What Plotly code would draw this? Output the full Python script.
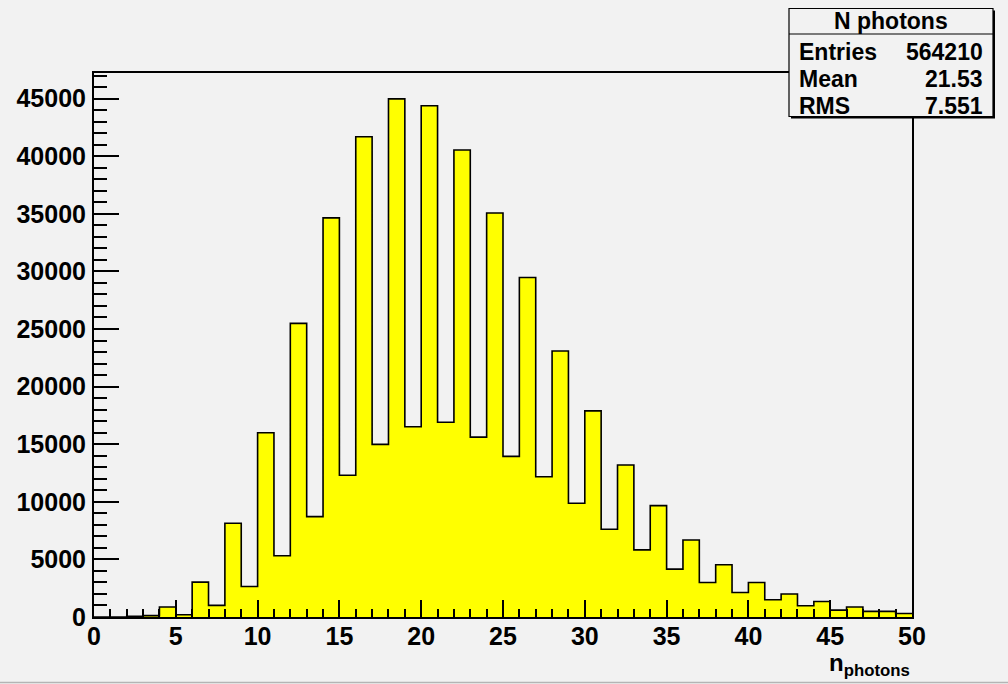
import plotly.graph_objects as go

# Photon-count histogram: 50 unit-width bins on [0, 50)
bin_edges = list(range(0, 51))
counts = [
    0, 0, 60, 120, 870, 200, 3030, 1005, 8140, 2650,
    15990, 5310, 25490, 8710, 34640, 12300, 41680, 14980, 44970, 16510,
    44370, 16910, 40530, 15610, 35070, 13940, 29470, 12180, 23090, 9870,
    17890, 7620, 13190, 5830, 9665, 4157, 6690, 3000, 4530, 2130,
    3000, 1500, 1990, 980, 1350, 600, 866, 485, 485, 310,
]
stats_title = "N photons"
stats_labels = ["Entries", "Mean", "RMS"]
stats_values = ["564210", "21.53", "7.551"]
x_title = "n<sub>photons</sub>"

W, H = 1008, 684
L, R, T, B = 94, 912, 73, 617
BG = "#f2f2f2"
FONT = "Liberation Sans"


def px(xp):
    return (xp - L) / (R - L)


def py(yp):
    return (B - yp) / (B - T)


# step outline: one point per bin's left edge, plus the closing right edge
step_x = bin_edges[:-1] + [bin_edges[-1]]
step_y = counts + [counts[-1]]

fig = go.Figure()
fig.add_trace(go.Scatter(
    x=step_x, y=step_y, mode="lines", line_shape="hv",
    line=dict(color="black", width=1.6),
    fill="tozeroy", fillcolor="#ffff00",
    hoverinfo="skip", showlegend=False,
))

ymax = 1.05 * max(counts)

fig.update_layout(
    width=W, height=H,
    margin=dict(l=L, r=W - R, t=T, b=H - B, pad=0),
    paper_bgcolor=BG, plot_bgcolor=BG,
    showlegend=False,
    xaxis=dict(
        range=[bin_edges[0], bin_edges[-1]], dtick=5, tick0=0,
        ticks="inside", ticklen=17, tickwidth=1.5, tickcolor="black",
        minor=dict(dtick=1, ticks="inside", ticklen=8, tickwidth=1.5, tickcolor="black"),
        showgrid=False, zeroline=False,
        showline=True, linecolor="black", linewidth=2, mirror=True,
        tickfont=dict(family=FONT, size=25, color="black", weight="bold"),
        ticklabelstandoff=-4,
    ),
    yaxis=dict(
        range=[0, ymax], dtick=5000, tick0=0, tickformat="d",
        ticks="inside", ticklen=25, tickwidth=1.5, tickcolor="black",
        minor=dict(dtick=1000, ticks="inside", ticklen=13, tickwidth=1.5, tickcolor="black"),
        showgrid=False, zeroline=False,
        showline=True, linecolor="black", linewidth=2, mirror=True,
        tickfont=dict(family=FONT, size=25, color="black", weight="bold"),
        ticklabelstandoff=1,
    ),
)

# axis title, right-aligned at the end of the x axis
fig.add_annotation(
    x=px(912), y=py(664), xref="paper", yref="paper",
    xanchor="right", yanchor="middle", showarrow=False,
    text="<b>" + x_title + "</b>",
    font=dict(family=FONT, size=24, color="black"),
)

# statistics box with drop shadow
bx0, bx1, by0, by1 = 789, 993, 8.5, 116.5
fig.add_shape(type="rect", xref="paper", yref="paper",
              x0=px(bx0 + 2), x1=px(bx1 + 2), y0=py(by0 + 2), y1=py(by1 + 2),
              fillcolor="black", line=dict(width=0), layer="above")
fig.add_shape(type="rect", xref="paper", yref="paper",
              x0=px(bx0), x1=px(bx1), y0=py(by0), y1=py(by1),
              fillcolor=BG, line=dict(color="black", width=1.2), layer="above")
fig.add_shape(type="line", xref="paper", yref="paper",
              x0=px(bx0), x1=px(bx1), y0=py(34), y1=py(34),
              line=dict(color="black", width=1.2), layer="above")
fig.add_annotation(
    x=px((bx0 + bx1) / 2), y=py(21), xref="paper", yref="paper",
    xanchor="center", yanchor="middle", showarrow=False,
    text="<b>" + stats_title + "</b>",
    font=dict(family=FONT, size=23, color="black"),
)
for i, (lab, val) in enumerate(zip(stats_labels, stats_values)):
    yc = 52 + i * 27
    fig.add_annotation(
        x=px(797), y=py(yc), xref="paper", yref="paper",
        xanchor="left", yanchor="middle", showarrow=False,
        text="<b>" + lab + "</b>",
        font=dict(family=FONT, size=23, color="black"),
    )
    fig.add_annotation(
        x=px(985), y=py(yc), xref="paper", yref="paper",
        xanchor="right", yanchor="middle", showarrow=False,
        text="<b>" + val + "</b>",
        font=dict(family=FONT, size=23, color="black"),
    )

# thin border along the bottom of the canvas
fig.add_shape(type="line", xref="paper", yref="paper",
              x0=px(0), x1=px(W), y0=py(682.5), y1=py(682.5),
              line=dict(color="#b4b4b4", width=1.5), layer="above")

fig.write_html("out.html")
